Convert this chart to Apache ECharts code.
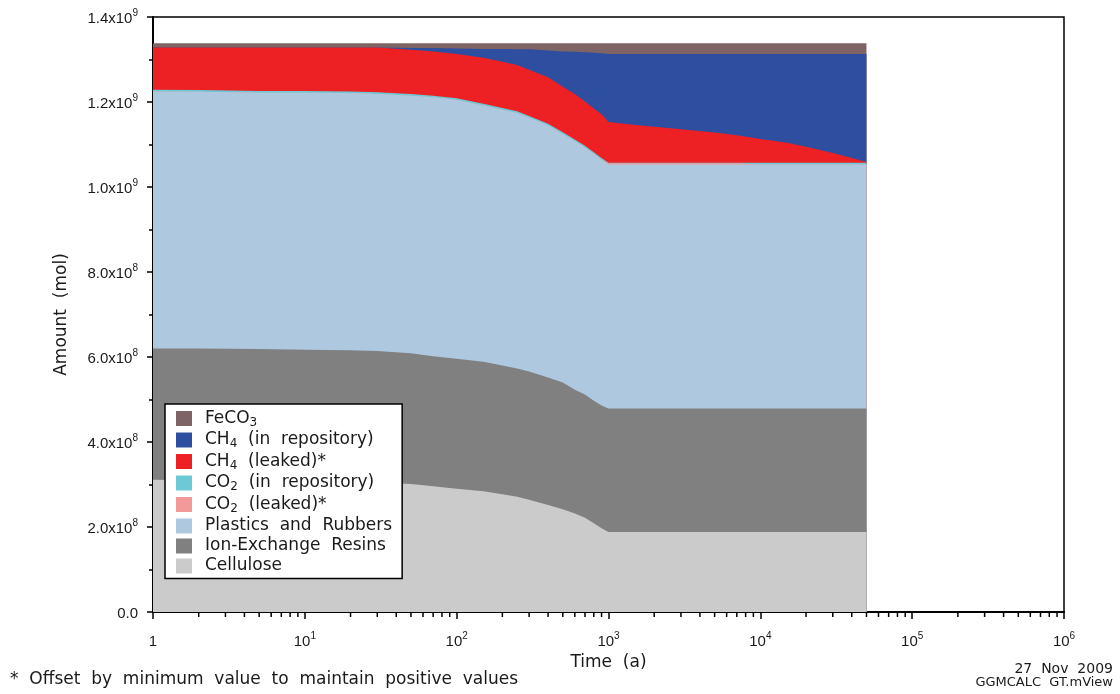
<!DOCTYPE html>
<html>
<head>
<meta charset="utf-8">
<script src="https://cdn.jsdelivr.net/npm/echarts@6/dist/echarts.min.js"></script>
<style>
  html, body { margin: 0; padding: 0; background: #fff; }
  #chart { width: 1120px; height: 694px; }
</style>
</head>
<body>
<div id="chart"></div>
<script>
// Time points (years)
const times = [1, 2, 5, 10, 20, 30, 50, 70, 100, 150, 200, 250, 300, 400, 500, 600, 700, 800, 900,
  1000, 1500, 2000, 3000, 5000, 7000, 10000, 15000, 20000, 30000, 40000, 50000];

// Amount held in each inventory, in units of 1e8 mol (layer thickness, stacked bottom-up)
const UNIT = 1e8;
const cellulose   = [3.11, 3.10, 3.09, 3.08, 3.06, 3.05, 3.01, 2.96, 2.90, 2.84, 2.77, 2.71, 2.64, 2.52, 2.42, 2.32, 2.22, 2.09, 1.97,
  1.88, 1.88, 1.88, 1.88, 1.88, 1.88, 1.88, 1.88, 1.88, 1.88, 1.88, 1.88];
const ionExchange = [3.09, 3.10, 3.10, 3.09, 3.10, 3.09, 3.08, 3.06, 3.06, 3.05, 3.03, 3.02, 3.02, 3.00, 2.98, 2.91, 2.90, 2.88, 2.89,
  2.91, 2.91, 2.91, 2.91, 2.91, 2.91, 2.91, 2.91, 2.91, 2.91, 2.91, 2.91];
const plastics    = [6.05, 6.04, 6.03, 6.05, 6.05, 6.05, 6.06, 6.09, 6.09, 6.03, 6.02, 6.01, 5.97, 5.93, 5.85, 5.85, 5.81, 5.81, 5.78,
  5.74, 5.74, 5.74, 5.74, 5.74, 5.74, 5.74, 5.74, 5.74, 5.74, 5.74, 5.74];
const co2Leaked   = [0, 0, 0, 0, 0, 0, 0, 0, 0, 0, 0, 0, 0, 0, 0, 0, 0, 0, 0,
  0.03, 0.03, 0.03, 0.03, 0.03, 0.03, 0, 0, 0, 0, 0, 0];
const co2Repo     = [0.04, 0.04, 0.04, 0.04, 0.04, 0.04, 0.04, 0.04, 0.04, 0.04, 0.04, 0.04, 0.04, 0.04, 0.04, 0.04, 0.04, 0.04, 0.04,
  0.01, 0.01, 0.01, 0.01, 0.01, 0.01, 0.04, 0.04, 0.04, 0.04, 0.04, 0.04];
const ch4Leaked   = [0.99, 1.00, 1.02, 1.02, 1.03, 1.05, 1.04, 1.04, 1.04, 1.08, 1.09, 1.09, 1.09, 1.09, 1.07, 1.07, 1.04, 1.03, 1.03,
  0.96, 0.89, 0.85, 0.79, 0.71, 0.65, 0.56, 0.47, 0.38, 0.23, 0.11, 0.02];
const ch4Repo     = [0, 0, 0, 0, 0, 0, 0.04, 0.08, 0.13, 0.21, 0.30, 0.37, 0.48, 0.63, 0.83, 0.99, 1.16, 1.31, 1.44,
  1.60, 1.67, 1.71, 1.77, 1.85, 1.91, 2.00, 2.09, 2.18, 2.33, 2.45, 2.54];
const feco3       = [0.10, 0.10, 0.10, 0.10, 0.10, 0.10, 0.11, 0.11, 0.12, 0.13, 0.13, 0.14, 0.14, 0.17, 0.19, 0.20, 0.21, 0.22, 0.23,
  0.25, 0.25, 0.25, 0.25, 0.25, 0.25, 0.25, 0.25, 0.25, 0.25, 0.25, 0.25];

// Layers from bottom to top
const layers = [
  { name: 'Cellulose',            values: cellulose,   color: '#cbcbcb' },
  { name: 'Ion-Exchange Resins',  values: ionExchange, color: '#808080' },
  { name: 'Plastics and Rubbers', values: plastics,    color: '#aec8e0' },
  { name: 'CO2 (leaked)*',        values: co2Leaked,   color: '#f29a9a' },
  { name: 'CO2 (in repository)',  values: co2Repo,     color: '#6ccad6' },
  { name: 'CH4 (leaked)*',        values: ch4Leaked,   color: '#ed2024' },
  { name: 'CH4 (in repository)',  values: ch4Repo,     color: '#2e4fa0' },
  { name: 'FeCO3',                values: feco3,       color: '#7e6464' }
];

// Legend order (top to bottom) and its formatted labels with subscripts
const legendOrder = ['FeCO3', 'CH4 (in repository)', 'CH4 (leaked)*', 'CO2 (in repository)',
  'CO2 (leaked)*', 'Plastics and Rubbers', 'Ion-Exchange Resins', 'Cellulose'];
const legendLabels = {
  'FeCO3': '{f|FeCO}{sub|3}',
  'CH4 (in repository)': '{f|CH}{sub|4}{n|  (in  repository)}',
  'CH4 (leaked)*': '{f|CH}{sub|4}{n|  (leaked)*}',
  'CO2 (in repository)': '{f|CO}{sub|2}{n|  (in  repository)}',
  'CO2 (leaked)*': '{f|CO}{sub|2}{n|  (leaked)*}',
  'Plastics and Rubbers': '{f|Plastics  and  Rubbers}',
  'Ion-Exchange Resins': '{f|Ion-Exchange  Resins}',
  'Cellulose': '{f|Cellulose}'
};

// Log-axis minor tick positions (2..9 within each decade)
const xMinorTicks = [];
for (let k = 0; k < 6; k++) {
  for (let m = 2; m <= 9; m++) xMinorTicks.push(m * Math.pow(10, k));
}

const TXT = '#1a1a1a';
const tickFont = 'Liberation Sans';
const textFont = 'DejaVu Sans';

const tickRich = {
  b: { fontFamily: tickFont, fontSize: 15, lineHeight: 18, verticalAlign: 'bottom', color: TXT },
  s: { fontFamily: tickFont, fontSize: 10, lineHeight: 10, verticalAlign: 'top', color: TXT }
};

// Running totals: each layer is filled from zero up to its cumulative top,
// drawn top layer first so the lower layers paint over it.
const running = times.map(() => 0);
const cumulative = layers.map(l => {
  const tops = l.values.map((v, i) => (running[i] += v));
  return { name: l.name, color: l.color, tops: tops.slice() };
});

const series = cumulative.slice().reverse().map(l => ({
  name: l.name,
  type: 'line',
  data: times.map((t, i) => [t, l.tops[i] * UNIT]),
  symbol: 'none',
  showSymbol: false,
  lineStyle: { width: 0, color: l.color },
  itemStyle: { color: l.color },
  areaStyle: { color: l.color, opacity: 1, origin: 'start' },
  emphasis: { disabled: true },
  silent: true
}));

series.push({
  type: 'custom',
  silent: true,
  clip: false,
  z: 10,
  data: xMinorTicks.map(v => [v, 0]),
  renderItem: function (params, api) {
    const p = api.coord([api.value(0), 0]);
    return {
      type: 'line',
      shape: { x1: p[0], y1: p[1] + 1, x2: p[0], y2: p[1] + 5 },
      style: { stroke: '#000', lineWidth: 1.5 }
    };
  }
});

const chart = echarts.init(document.getElementById('chart'), null, { renderer: 'canvas' });
chart.setOption({
  animation: false,
  backgroundColor: '#fff',
  grid: {
    left: 153, right: 56, top: 17, bottom: 82,
    show: true, borderColor: '#000', borderWidth: 1.5, backgroundColor: 'transparent'
  },
  xAxis: {
    type: 'log',
    logBase: 10,
    min: 1,
    max: 1e6,
    name: 'Time  (a)',
    nameLocation: 'middle',
    nameGap: 42,
    nameTextStyle: { fontFamily: textFont, fontSize: 17, color: TXT },
    axisLine: { onZero: false, lineStyle: { color: '#000', width: 2 } },
    axisTick: { show: true, length: 7, lineStyle: { color: '#000', width: 1.5 } },
    splitLine: { show: false },
    minorTick: { show: false },
    axisLabel: {
      margin: 19,
      formatter: function (v) {
        if (v === 1) return '{b|1}';
        const e = Math.round(Math.log10(v));
        return '{b|10}{s|' + e + '}';
      },
      rich: tickRich
    }
  },
  yAxis: {
    type: 'value',
    min: 0,
    max: 1.4e9,
    interval: 2e8,
    name: 'Amount  (mol)',
    nameLocation: 'middle',
    nameGap: 83,
    nameTextStyle: { fontFamily: textFont, fontSize: 17, color: TXT },
    axisLine: { show: true, onZero: false, lineStyle: { color: '#000', width: 2 } },
    axisTick: { show: true, length: 6, lineStyle: { color: '#000', width: 1.5 } },
    minorTick: { show: true, splitNumber: 2, length: 4, lineStyle: { color: '#000', width: 1.5 } },
    splitLine: { show: false },
    axisLabel: {
      margin: 15,
      formatter: function (v) {
        if (v === 0) return '{b|0.0}';
        const e = Math.floor(Math.log10(v) + 1e-9);
        const m = v / Math.pow(10, e);
        return '{b|' + m.toFixed(1) + 'x10}{s|' + e + '}';
      },
      rich: tickRich
    }
  },
  legend: {
    data: legendOrder,
    orient: 'vertical',
    left: 165,
    top: 404,
    padding: [6, 10, 4, 11],
    itemGap: 3,
    itemWidth: 16,
    itemHeight: 15,
    icon: 'rect',
    backgroundColor: '#fff',
    borderColor: '#000',
    borderWidth: 1.5,
    borderRadius: 0,
    selectedMode: false,
    itemStyle: { borderWidth: 0 },
    formatter: function (name) { return legendLabels[name]; },
    textStyle: {
      color: TXT,
      rich: {
        f: { fontFamily: textFont, fontSize: 17, lineHeight: 20, padding: [0, 0, 0, 8], color: TXT },
        n: { fontFamily: textFont, fontSize: 17, lineHeight: 20, color: TXT },
        sub: { fontFamily: textFont, fontSize: 12, lineHeight: 12, verticalAlign: 'bottom', color: TXT }
      }
    }
  },
  graphic: [
    {
      type: 'text', x: 10, y: 680,
      style: {
        text: '*  Offset  by  minimum  value  to  maintain  positive  values',
        font: '17px "DejaVu Sans"', fill: TXT, verticalAlign: 'middle'
      }
    },
    {
      type: 'text', x: 1113, y: 669,
      style: { text: '27  Nov  2009', font: '14px "DejaVu Sans"', fill: TXT, align: 'right', verticalAlign: 'middle' }
    },
    {
      type: 'text', x: 1113, y: 683,
      style: { text: 'GGMCALC  GT.mView', font: '13px "DejaVu Sans"', fill: TXT, align: 'right', verticalAlign: 'middle' }
    }
  ],
  series: series
});
</script>
</body>
</html>
